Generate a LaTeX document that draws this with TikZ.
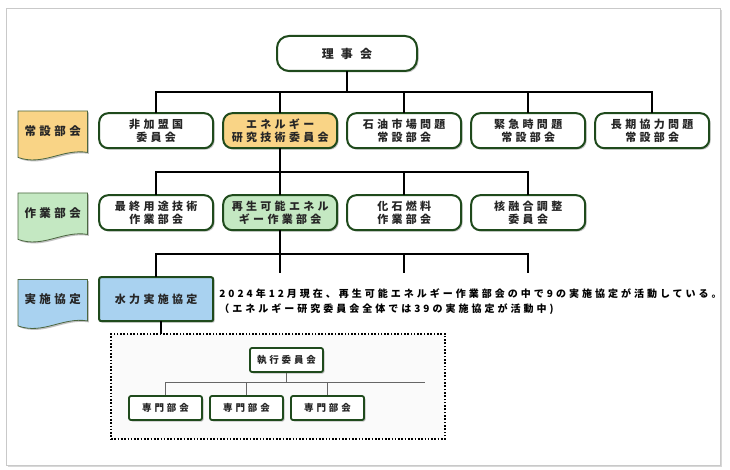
\documentclass[tikz,border=0pt]{standalone}
\usepackage{fontspec}
\setmainfont{Noto Sans CJK JP}[LetterSpace=30]
\usetikzlibrary{positioning,calc,shadows,backgrounds}

\definecolor{boxline}{HTML}{1F4A1C}
\definecolor{ceretfill}{HTML}{F9D486}
\definecolor{rewpfill}{HTML}{C4E8C2}
\definecolor{tcpfill}{HTML}{A9D2F0}
\definecolor{tagline}{HTML}{4B6640}
\definecolor{framegray}{HTML}{C9C9C9}

\tikzset{
  softshadow/.style={drop shadow={shadow xshift=1.5pt, shadow yshift=-1.5pt, fill=black!40, opacity=.6}},
  orgbox/.style={draw=boxline, line width=2pt, rounded corners=9pt, fill=white,
    minimum width=114pt, minimum height=35pt, align=center, inner sep=1pt,
    font=\fontsize{11}{13.5}\selectfont\bfseries, text=black!85, softshadow},
  hydrobox/.style={orgbox, rounded corners=2pt, fill=tcpfill, minimum height=44pt},
  smallbox/.style={draw=boxline, line width=1.8pt, rounded corners=2pt, fill=white,
    minimum width=73pt, minimum height=24pt, inner sep=1pt,
    font=\fontsize{9.5}{11}\selectfont\bfseries, text=black!85, softshadow},
  tagtext/.style={minimum width=69pt, minimum height=35pt, inner sep=0pt,
    font=\fontsize{11.5}{13}\selectfont\bfseries, text=black!85},
  tagedge/.style={draw=tagline, line width=0.8pt, softshadow},
  notetext/.style={anchor=west, align=left, inner sep=0pt,
    font=\fontsize{10}{15}\selectfont\bfseries},
  innerframe/.style={draw=black, line width=1.8pt, dash pattern=on 1.6pt off 1.7pt,
    fill=black!2, minimum width=334pt, minimum height=105pt},
  trunk/.style={draw=black, line width=2pt, line cap=rect},
  twig/.style={draw=black!60, line width=1.3pt},
  framebox/.style={fill=white, draw=framegray, line width=0.8pt,
    drop shadow={shadow xshift=2pt, shadow yshift=-2pt, fill=black!30, opacity=.5}}
}

% document-like tag on the left of each row
\newcommand{\tagshape}[2]{%
  \draw[tagedge, fill=#2] ($(#1.north west)+(0,-2)$) -- ($(#1.north east)+(0,-2)$)
    -- ($(#1.south east)+(0,4)$)
    .. controls ($(#1.south east)+(-25,0)$) and ($(#1.south west)+(25,18)$) .. ($(#1.south west)+(0,9)$)
    -- cycle;}

\begin{document}
\begin{tikzpicture}[x=1pt, y=-1pt]
  \useasboundingbox (0,0) rectangle (730,470);

  \node[orgbox, minimum width=140pt, rounded corners=12pt,
    font={\fontsize{12}{14}\selectfont\bfseries\addfontfeature{LetterSpace=60}}] (board) at (347,53.5) {理事会};

  \matrix (m) [matrix anchor=north west, at={(18,112)}, column sep=8pt, row sep=45pt,
    inner sep=0pt, ampersand replacement=\&]{
    \node[tagtext] (standing) {常設部会}; \&[3pt]
    \node[orgbox] (nonmember) {非加盟国\\委員会}; \&
    \node[orgbox, fill=ceretfill] (ceret) {エネルギー\\研究技術委員会}; \&
    \node[orgbox] (oilmarket) {石油市場問題\\常設部会}; \&
    \node[orgbox] (emergency) {緊急時問題\\常設部会}; \&
    \node[orgbox] (longterm) {長期協力問題\\常設部会}; \\
    \node[tagtext] (working) {作業部会}; \&
    \node[orgbox] (enduse) {最終用途技術\\作業部会}; \&
    \node[orgbox, fill=rewpfill] (renewable) {再生可能エネル\\ギー作業部会}; \&
    \node[orgbox] (fossil) {化石燃料\\作業部会}; \&
    \node[orgbox] (fusion) {核融合調整\\委員会}; \& \\
    \node[tagtext] (implementing) {実施協定}; \&
    \node[hydrobox] (hydro) {水力実施協定}; \& \& \& \& \\
  };

  \node[notetext, right=5pt of hydro, yshift=-2pt] (note)
    {2024年12月現在、再生可能エネルギー作業部会の中で9の実施協定が活動している。\\（エネルギー研究委員会全体では39の実施協定が活動中)};

  % hydropower agreement inside
  \node[innerframe] (innerbox) at (278,386.5) {};
  \node[smallbox] (exec) at (286.5,360) {執行委員会};
  \foreach \i/\x in {1/165.5,2/246.5,3/327.5}
    \node[smallbox] (expert\i) at (\x,408) {専門部会};

  % board -> standing groups
  \coordinate (bus1) at ($(board.south)!.5!(ceret.north)$);
  \draw[trunk] (board) -- (board |- bus1);
  \draw[trunk] (nonmember |- bus1) -- (longterm |- bus1);
  \foreach \n in {nonmember,ceret,oilmarket,emergency,longterm}
    \draw[trunk] (\n |- bus1) -- (\n);

  % CERT -> working parties
  \coordinate (bus2) at ($(ceret.south)!.5!(renewable.north)$);
  \draw[trunk] (ceret) -- (ceret |- bus2);
  \draw[trunk] (enduse |- bus2) -- (fusion |- bus2);
  \foreach \n in {enduse,renewable,fossil,fusion}
    \draw[trunk] (\n |- bus2) -- (\n);

  % REWP -> agreements
  \coordinate (bus3) at ($(renewable.south)!.5!(hydro.north)$);
  \foreach \n in {renewable,fossil,fusion}
    \coordinate (\n-stub) at ($(\n |- hydro.north)+(0,-4)$);
  \draw[trunk] (renewable) -- (renewable-stub);
  \draw[trunk] (hydro |- bus3) -- (fusion |- bus3);
  \draw[trunk] (hydro |- bus3) -- (hydro);
  \draw[trunk] (fossil |- bus3) -- (fossil-stub);
  \draw[trunk] (fusion |- bus3) -- (fusion-stub);
  \draw[trunk] ([xshift=5pt]hydro.south) -- ([xshift=5pt]hydro.south |- innerbox.north);

  \coordinate (bus4) at ($(exec.south)!.42!(expert1.north)$);
  \coordinate (bus4end) at ($(innerbox.east |- bus4)+(-21,0)$);
  \draw[twig] (exec) -- (exec |- bus4);
  \draw[twig] (expert1 |- bus4) -- (bus4end);
  \foreach \i in {1,2,3}
    \draw[twig] (expert\i |- bus4) -- (expert\i);

  \begin{pgfonlayer}{background}
    \path[framebox] (6,8) rectangle (720,465);
    \tagshape{standing}{ceretfill}
    \tagshape{working}{rewpfill}
    \tagshape{implementing}{tcpfill}
  \end{pgfonlayer}
\end{tikzpicture}
\end{document}
